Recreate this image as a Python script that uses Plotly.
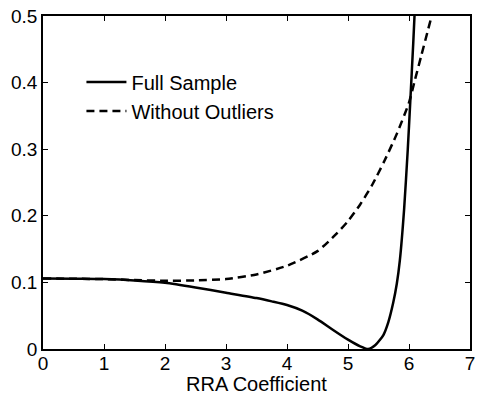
import plotly.graph_objects as go

# Full sample curve
full_x = [0.0, 0.5, 1.0, 1.5, 2.0, 2.5, 3.0, 3.5, 3.75, 4.0, 4.25, 4.5, 4.75, 5.0, 5.2, 5.33,
          5.45, 5.58, 5.66, 5.74, 5.80, 5.85, 5.92, 5.98, 6.02, 6.07, 6.10, 6.15]
full_y = [0.106, 0.1055, 0.105, 0.103, 0.0995, 0.0925, 0.0845, 0.0765, 0.0715, 0.066, 0.0575,
          0.0445, 0.029, 0.014, 0.004, 0.0, 0.006, 0.021, 0.040, 0.069, 0.098, 0.133, 0.21, 0.30,
          0.37, 0.46, 0.52, 0.62]

# Without outliers curve
wo_x = [0.0, 0.5, 1.0, 1.5, 2.0, 2.5, 3.0, 3.5, 4.0, 4.5, 4.8, 5.0, 5.2, 5.4, 5.6, 5.8,
        6.0, 6.1, 6.2, 6.3, 6.4, 6.5]
wo_y = [0.106, 0.1055, 0.105, 0.1035, 0.1025, 0.103, 0.105, 0.112, 0.125, 0.147, 0.172, 0.192,
        0.217, 0.247, 0.283, 0.323, 0.370, 0.405, 0.44, 0.475, 0.51, 0.545]

x_ticks = [0, 1, 2, 3, 4, 5, 6, 7]
y_ticks = [0, 0.1, 0.2, 0.3, 0.4, 0.5]
y_tick_labels = ["0", "0.1", "0.2", "0.3", "0.4", "0.5"]
x_title = "RRA Coefficient"

FONT = "Liberation Sans, Arial"

fig = go.Figure()
fig.add_trace(go.Scatter(x=full_x, y=full_y, mode="lines", name="Full Sample",
                         line=dict(color="black", width=2.5, shape="spline", smoothing=0.6)))
fig.add_trace(go.Scatter(x=wo_x, y=wo_y, mode="lines", name="Without Outliers",
                         line=dict(color="black", width=2.5, dash="8px,5px", shape="spline", smoothing=0.6)))

axis_common = dict(showgrid=False, zeroline=False, showline=True, linecolor="black", linewidth=1.5,
                   mirror="ticks", ticks="inside", ticklen=5, tickwidth=1, tickcolor="black",
                   automargin=False,
                   tickfont=dict(family=FONT, size=19, color="black"))

fig.update_layout(
    width=477, height=394,
    margin=dict(l=43, r=7, t=16, b=45),
    paper_bgcolor="white", plot_bgcolor="white",
    font=dict(family=FONT, size=20, color="black"),
    xaxis=dict(range=[0, 7], tickvals=x_ticks, ticklabelstandoff=-4, **axis_common),
    yaxis=dict(range=[0, 0.5], tickvals=y_ticks, ticktext=y_tick_labels, ticklabelstandoff=0,
               **axis_common),
    legend=dict(x=0.09, y=0.86, xanchor="left", yanchor="top", bgcolor="rgba(0,0,0,0)",
                font=dict(size=20), tracegroupgap=0, itemwidth=40),
    showlegend=True,
    annotations=[dict(text=x_title, xref="paper", yref="paper", x=0.5, y=0,
                      xanchor="center", yanchor="middle", yshift=-35, showarrow=False,
                      font=dict(family=FONT, size=20, color="black"))],
)

fig.write_html("out.html")
